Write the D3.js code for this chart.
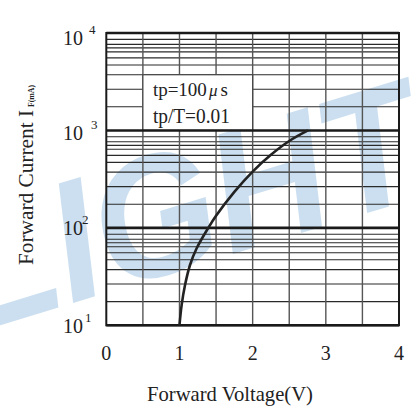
<!DOCTYPE html>
<html>
<head>
<meta charset="utf-8">
<script src="https://cdn.jsdelivr.net/npm/d3@7"></script>
<style>
  html, body { margin: 0; padding: 0; background: #fff; }
  svg { display: block; }
  text { font-family: "Liberation Serif", "DejaVu Serif", serif; fill: #222; }
</style>
</head>
<body>
<svg id="chart" width="413" height="416"></svg>
<script>
// ---- data ----
const voltage = [1.0, 1.030, 1.076, 1.144, 1.235, 1.394, 1.5, 1.75, 2.0, 2.25, 2.5, 2.756];
const current = [10, 16.2, 25.9, 41.6, 61.7, 100, 133, 234, 378, 562, 779, 1000];
const xTickValues = [0, 1, 2, 3, 4];
const xGridValues = [0.5, 1, 1.5, 2, 2.5, 3, 3.5];
const decadeValues = [10, 100, 1000, 10000];
const decadeExponents = [1, 2, 3, 4];
const minorMultipliers = [1.75, 2.65, 3.73, 4.7, 5.55, 6.4, 7.03, 7.64, 8.6];
const noteParts = ["tp=100", "\u03bc", "s"];
const noteLine2 = "tp/T=0.01";
const noteBox = { v0: 0.5, v1: 2.0, i0: 1000, i1: 3730 };
const xTitle = "Forward Voltage(V)";
const yTitle = "Forward Current I";
const yTitleSub = "F(mA)";
const watermark = "LIGHT";

// ---- layout ----
const svg = d3.select("#chart");
const x = d3.scaleLinear().domain([0, 4]).range([106.3, 399]);
const y = d3.scaleLog().domain([10, 10000]).range([325.3, 33]);

// watermark (behind everything)
svg.append("text")
  .attr("transform", "translate(-22,332) rotate(-17)")
  .attr("textLength", 475)
  .attr("lengthAdjust", "spacingAndGlyphs")
  .style("font-family", "'Liberation Sans', Arial, sans-serif")
  .style("font-weight", "bold")
  .style("font-style", "italic")
  .style("font-size", "172px")
  .style("fill", "#cbdff0")
  .text(watermark);

const g = svg.append("g");

// minor horizontal grid
const minorVals = [];
decadeValues.slice(0, 3).forEach(d => minorMultipliers.forEach(m => minorVals.push(d * m)));
g.selectAll(".hminor").data(minorVals).enter().append("line")
  .attr("x1", x(0)).attr("x2", x(4))
  .attr("y1", d => y(d)).attr("y2", d => y(d))
  .attr("stroke", "#2a2a2a").attr("stroke-width", 1.1);

// vertical grid
g.selectAll(".vgrid").data(xGridValues).enter().append("line")
  .attr("x1", d => x(d)).attr("x2", d => x(d))
  .attr("y1", y(10)).attr("y2", y(10000))
  .attr("stroke", "#555").attr("stroke-width", 1.4);

// note box (covers grid)
g.append("rect")
  .attr("x", x(noteBox.v0)).attr("y", y(noteBox.i1))
  .attr("width", x(noteBox.v1) - x(noteBox.v0))
  .attr("height", y(noteBox.i0) - y(noteBox.i1))
  .attr("fill", "#fff").attr("stroke", "#444").attr("stroke-width", 1.2);

// decade lines
g.selectAll(".hmajor").data(decadeValues).enter().append("line")
  .attr("x1", x(0)).attr("x2", x(4))
  .attr("y1", d => y(d)).attr("y2", d => y(d))
  .attr("stroke", "#1a1a1a").attr("stroke-width", 2.6);

// frame
g.append("rect")
  .attr("x", x(0)).attr("y", y(10000))
  .attr("width", x(4) - x(0)).attr("height", y(10) - y(10000))
  .attr("fill", "none").attr("stroke", "#1a1a1a").attr("stroke-width", 2);

// curve
const pts = voltage.map((v, i) => [v, current[i]]);
g.append("path")
  .datum(pts)
  .attr("d", d3.line().x(d => x(d[0])).y(d => y(d[1])).curve(d3.curveCatmullRom.alpha(0.5)))
  .attr("fill", "none").attr("stroke", "#222").attr("stroke-width", 2.6)
  .attr("stroke-linecap", "butt");

// note text
const nx = x(noteBox.v0) + 10;
const t1 = svg.append("text").attr("x", nx).attr("y", 96).style("font-size", "19px");
t1.append("tspan").text(noteParts[0]);
t1.append("tspan").attr("dx", 2).style("font-style", "italic").style("font-size", "17px").text(noteParts[1]);
t1.append("tspan").attr("dx", 3).text(noteParts[2]);
svg.append("text").attr("x", nx).attr("y", 123)
  .attr("textLength", 77).attr("lengthAdjust", "spacingAndGlyphs")
  .style("font-size", "20px").text(noteLine2);

// y tick labels
const supDx = { 1: 2, 2: -1, 3: 8, 4: 6 };
const baseDy = { 1: 8, 2: 7.5, 3: 10, 4: 12 };
decadeValues.forEach((d, i) => {
  const e = decadeExponents[i];
  const by = y(d) + baseDy[e];
  svg.append("text").attr("x", 83).attr("y", by)
    .attr("text-anchor", "end").style("font-size", "20px").text("10");
  svg.append("text").attr("x", 83 + supDx[e]).attr("y", by - 11.5)
    .style("font-size", "13px").text(String(e));
});

// x tick labels
svg.selectAll(".xt").data(xTickValues).enter().append("text")
  .attr("x", d => x(d)).attr("y", 360)
  .attr("text-anchor", "middle").style("font-size", "20px")
  .text(d => d);

// axis titles
svg.append("text").attr("x", 147).attr("y", 401)
  .attr("textLength", 166).attr("lengthAdjust", "spacingAndGlyphs")
  .style("font-size", "21px").text(xTitle);

svg.append("text").attr("transform", "translate(33,265) rotate(-90)")
  .attr("textLength", 155).attr("lengthAdjust", "spacingAndGlyphs")
  .style("font-size", "21px").text(yTitle);
svg.append("text").attr("transform", "translate(33.5,107) rotate(-90)")
  .attr("textLength", 22).attr("lengthAdjust", "spacingAndGlyphs")
  .style("font-size", "8.5px").style("font-weight", "bold").text(yTitleSub);
</script>
</body>
</html>
